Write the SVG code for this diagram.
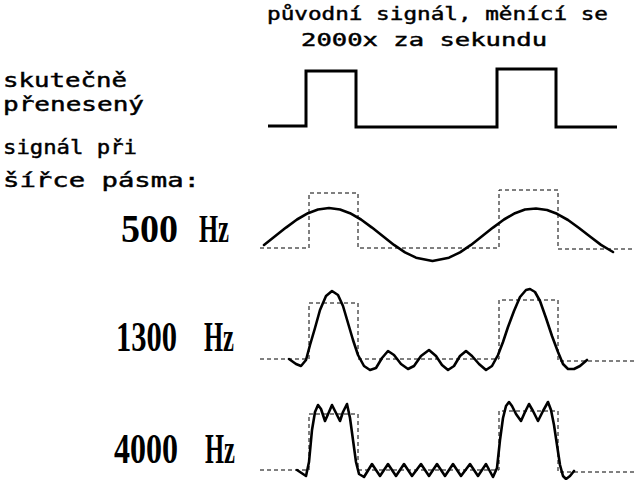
<svg xmlns="http://www.w3.org/2000/svg" width="640" height="480" viewBox="0 0 640 480">
<style>
.t{font-family:"DejaVu Sans Mono","Liberation Mono",monospace;fill:#000;stroke:#000;stroke-width:0.45}
.hz{font-family:"Liberation Serif","Times New Roman",serif;font-weight:bold;fill:#000}
.sq{fill:none;stroke:#000;stroke-width:3;stroke-linejoin:miter}
.dash{fill:none;stroke:#000;stroke-width:1;stroke-dasharray:4 3}
.wave{fill:none;stroke:#000;stroke-width:2.6;stroke-linejoin:round;stroke-linecap:round}
</style>
<rect width="640" height="480" fill="#fff"/>
<g id="title">
<text class="t" x="267" y="20" font-size="18" textLength="341" lengthAdjust="spacingAndGlyphs">původní signál, měnící se</text>
<text class="t" x="301" y="46" font-size="18" textLength="246" lengthAdjust="spacingAndGlyphs">2000x za sekundu</text>
</g>
<g id="original">
<path class="sq" d="M268,126 H306 V71 H356 V127 H497 V69 H556 V127 H617"/>
</g>
<g id="caption">
<text class="t" x="3" y="87" font-size="20" textLength="124" lengthAdjust="spacingAndGlyphs">skutečně</text>
<text class="t" x="3" y="111" font-size="20" textLength="141" lengthAdjust="spacingAndGlyphs">přenesený</text>
<text class="t" x="3" y="154" font-size="20" textLength="134" lengthAdjust="spacingAndGlyphs">signál při</text>
<text class="t" x="3" y="187" font-size="20" textLength="197" lengthAdjust="spacingAndGlyphs">šířce pásma:</text>
</g>
<g id="bw500">
<text class="hz" x="121" y="242" font-size="40"><tspan textLength="57" lengthAdjust="spacingAndGlyphs">500</tspan> <tspan x="199" textLength="30" lengthAdjust="spacingAndGlyphs">Hz</tspan></text>
<path class="dash" d="M260,248 H309 V193 H358 V248 H499 V190 H558 V249 H634"/>
<polyline class="wave" points="264,244.9 275,236.3 286,227.6 297,219.5 308,213.2 318,209.5 329,208 340,209.5 350,213.2 361,219.5 372,227.6 383,236.3 394,244.9 405,252.3 416,257.7 432.5,261 449,257.7 460,252.3 471,244.9 482,236.3 493,227.6 504,219.5 515,213.2 525,209.5 536,208.5 547,210 557,213.8 568,220 579,228 590,236.5 601,244.9 613,252"/>
</g>
<g id="bw1300">
<text class="hz" x="116" y="351" font-size="42"><tspan textLength="61" lengthAdjust="spacingAndGlyphs">1300</tspan> <tspan x="204" textLength="30" lengthAdjust="spacingAndGlyphs">Hz</tspan></text>
<path class="dash" d="M260,359 H309 V303 H358 V359 H499 V300 H558 V361 H634"/>
<polyline class="wave" points="289,359 296,364 301,366 306,360 310,345 315,328 320,310 326,296 332,291 338,295 343,306 348,323 353,340 358,355 364,366 370,370 376,368 382,358 388,351 394,355 401,364 408,369 414,366 421,356 429,350 436,356 442,365 448,370 454,366 460,356 466,351 472,356 479,364 486,370 492,366 498,355 503,342 508,327 514,311 520,297 526,290 530,289 535,292 540,301 546,318 552,336 558,352 563,364 568,369 574,369 580,366 587,360"/>
</g>
<g id="bw4000">
<text class="hz" x="114" y="463" font-size="42"><tspan textLength="64" lengthAdjust="spacingAndGlyphs">4000</tspan> <tspan x="205" textLength="30" lengthAdjust="spacingAndGlyphs">Hz</tspan></text>
<path class="dash" d="M260,470 H309 V414 H358 V470 H499 V411 H558 V472 H634"/>
<polyline class="wave" points="297,470 303,474 306,476 309,462 312,430 315,412 318,405 321,409 325,421 329,412 332,405 336,413 340,421 343,412 347,404 350,418 353,440 356,462 359,474 364,477 372,464 380,476 388,464 396,476 404,464 412,476 421,464 429,476 437,464 445,476 453,464 461,476 470,464 478,476 486,464 493,477 497,468 500,440 503,418 506,406 509,402 512,406 516,414 521,421 525,412 529,404 533,411 538,421 543,411 548,402 551,410 554,425 557,445 560,465 563,476 566,479 570,476 574,471"/>
</g>
</svg>
